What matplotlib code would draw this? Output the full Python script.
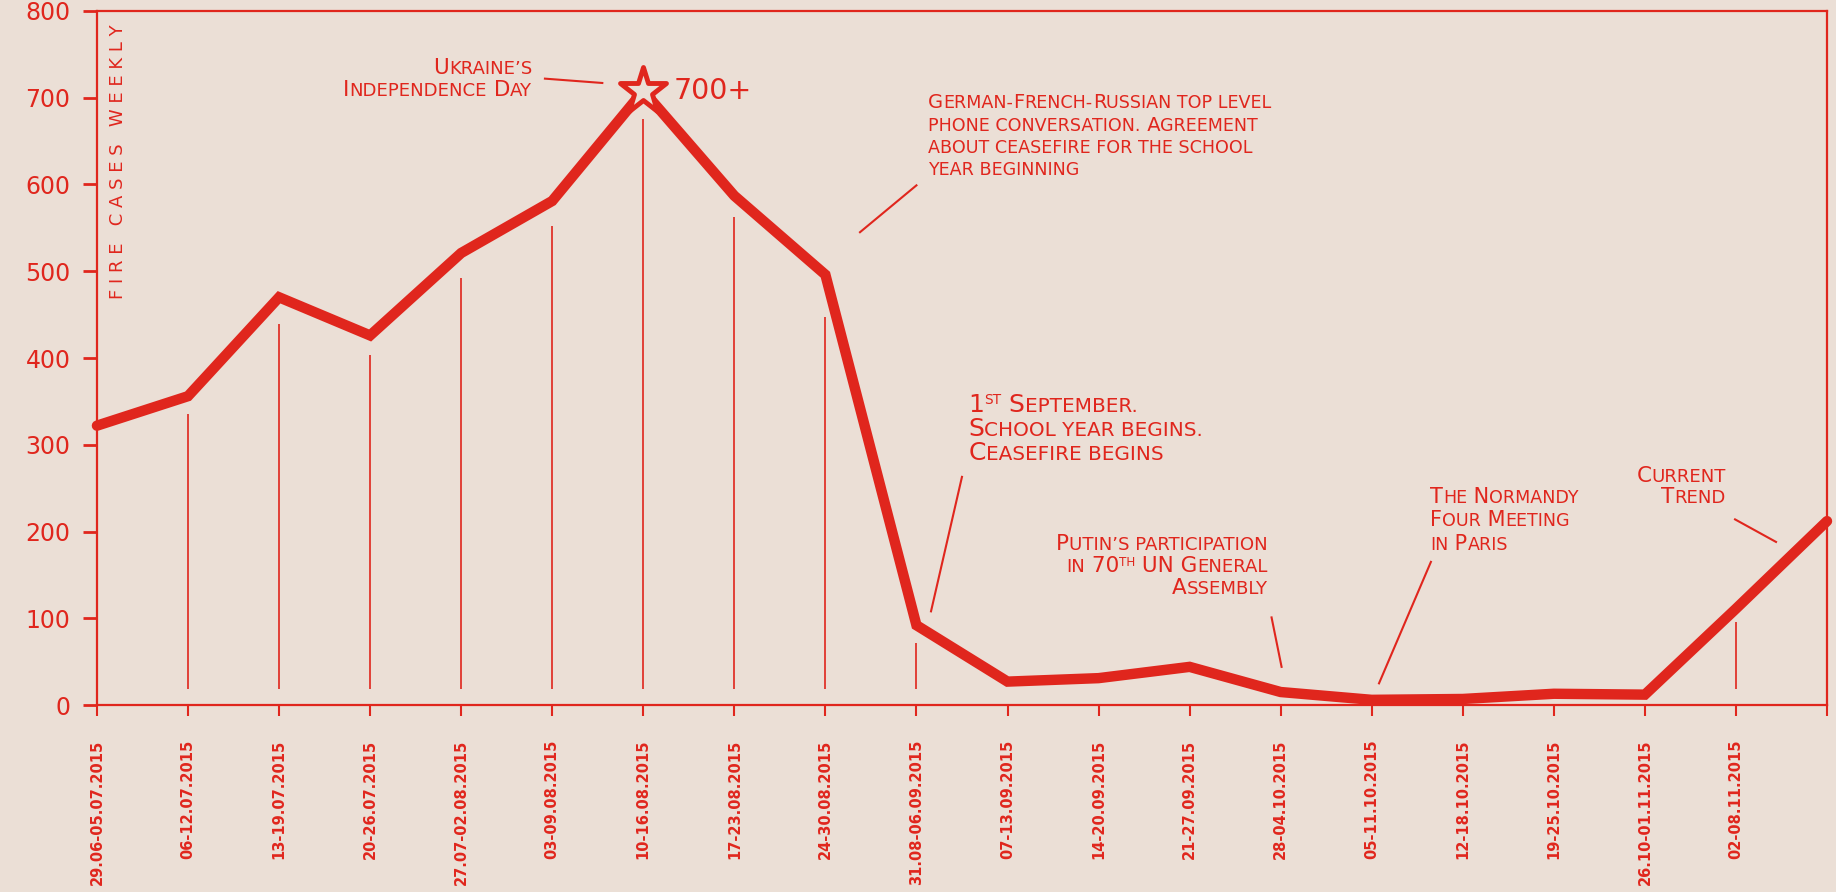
"""Weekly fire cases in Donbas, summer-autumn 2015, drawn in a paper-poster style."""

import matplotlib

matplotlib.use("Agg")
import matplotlib.pyplot as plt
from matplotlib.markers import MarkerStyle
from matplotlib.offsetbox import AnnotationBbox, HPacker, TextArea, VPacker

RED = "#e0261d"
PAPER = "#ebdfd6"
FONT = "DejaVu Sans"

# Data.
week_labels = [
    "29.06-05.07.2015", "06-12.07.2015", "13-19.07.2015", "20-26.07.2015",
    "27.07-02.08.2015", "03-09.08.2015", "10-16.08.2015", "17-23.08.2015",
    "24-30.08.2015", "31.08-06.09.2015", "07-13.09.2015", "14-20.09.2015",
    "21-27.09.2015", "28-04.10.2015", "05-11.10.2015", "12-18.10.2015",
    "19-25.10.2015", "26.10-01.11.2015", "02-08.11.2015", "",
]
fire_cases = [322, 356, 470, 426, 521, 581, 708, 587, 496, 92,
              27, 31, 44, 15, 6, 7, 13, 12, 111, 212]
peak_week = 6
stem_weeks = [1, 2, 3, 4, 5, 6, 7, 8, 9, 18]
stem_tops = [335, 439, 404, 492, 552, 676, 563, 447, 72, 96]
stem_base = 19
y_ticks = [0, 100, 200, 300, 400, 500, 600, 700, 800]


def small_caps_line(line, size, ratio=0.84):
    """Build one line of fake small caps; '^xx' marks a superscript."""
    parts = []
    for chunk in line.replace("^", "\x00^").split("\x00"):
        if chunk.startswith("^"):
            word = chunk[1:].split(" ")[0]
            parts.append(("sup", word))
            rest = chunk[1 + len(word):]
            if rest:
                parts.append(("txt", rest))
        elif chunk:
            parts.append(("txt", chunk))

    boxes = []
    for kind, text in parts:
        if kind == "sup":
            boxes.append(TextArea(text.upper(), textprops=dict(
                size=size * 0.55, color=RED, family=FONT)))
            continue
        # split into runs of small (lowercase) and full-size characters
        states = []
        for c in text:
            if c.islower():
                states.append(True)
            elif c.isupper() or c.isdigit():
                states.append(False)
            else:
                states.append(None)
        for i in range(len(states)):
            if states[i] is None and text[i] != " ":
                states[i] = states[i - 1] if i > 0 and states[i - 1] is not None else False
        for i in range(len(states) - 1, -1, -1):
            if states[i] is None:
                states[i] = states[i + 1] if i + 1 < len(states) else False
        runs = []
        for c, s in zip(text, states):
            if runs and runs[-1][1] == s:
                runs[-1][0] += c
            else:
                runs.append([c, s])
        row = [TextArea(r.upper(), textprops=dict(
            size=size * ratio if s else size, color=RED, family=FONT))
            for r, s in runs]
        boxes.append(HPacker(children=row, align="baseline", pad=0, sep=0))
    return HPacker(children=boxes, align="top", pad=0, sep=0)


def note(ax, lines, xy, side="left", size=15.5, ratio=0.84, sep=2):
    rows = [small_caps_line(t, size, ratio) for t in lines]
    box = VPacker(children=rows, align=side, pad=0, sep=sep)
    ab = AnnotationBbox(box, xy, xycoords="data",
                        box_alignment=(0 if side == "left" else 1, 0.5),
                        frameon=False, pad=0, annotation_clip=False)
    ax.add_artist(ab)


fig, ax = plt.subplots(figsize=(18.36, 8.92), dpi=100)
fig.patch.set_facecolor(PAPER)
ax.set_facecolor(PAPER)
fig.subplots_adjust(left=0.0528, right=0.9951, bottom=0.2096, top=0.9877)

x = list(range(len(fire_cases)))

# thin stems from the baseline up towards the line
ax.vlines(stem_weeks, stem_base, stem_tops, color=RED, lw=1.2, zorder=2)

ax.plot(x, fire_cases, color=RED, lw=7.5, solid_capstyle="round",
        solid_joinstyle="miter", clip_on=False, zorder=3)
star = MarkerStyle("*", joinstyle="round")
ax.plot(peak_week, fire_cases[peak_week], marker=star, ms=35, mfc=PAPER,
        mec=RED, mew=3.5, zorder=4, clip_on=False)
ax.text(6.33, 708, "700+", color=RED, family=FONT, size=20.5,
        ha="left", va="center")

ax.set_xlim(0, len(fire_cases) - 1)
ax.set_ylim(0, 800)
ax.set_xticks(x)
ax.set_xticklabels(week_labels, rotation=90, family=FONT, weight="bold",
                   size=10.5, color=RED, va="top")
ax.set_yticks(y_ticks)
ax.set_yticklabels([str(v) for v in y_ticks], family=FONT, size=17, color=RED)
ax.tick_params(axis="x", direction="out", length=8, width=1.5, color=RED, pad=17)
ax.tick_params(axis="y", direction="out", length=10, width=2, color=RED, pad=9)
for sp in ax.spines.values():
    sp.set_color(RED)
    sp.set_linewidth(1.6)

ax.text(0.012, 0.98, "F I R E   C A S E S   W E E K L Y", transform=ax.transAxes,
        rotation=90, ha="center", va="top", size=13, color=RED, family=FONT)

# annotations with their leader lines
note(ax, ["Ukraine’s", "Independence Day"], (4.78, 722), side="right", sep=1.5)
ax.plot([4.92, 5.55], [722, 717], color=RED, lw=1.5)

note(ax, ["German-French-Russian top level", "phone conversation. Agreement",
          "about ceasefire for the school", "year beginning"],
     (9.13, 656), size=14, ratio=0.9, sep=3)
ax.plot([8.38, 9.0], [545, 599], color=RED, lw=1.5)

note(ax, ["1^st September.", "School year begins.", "Ceasefire begins"],
     (9.57, 318), size=18, ratio=0.8, sep=0)
ax.plot([9.50, 9.16], [263, 108], color=RED, lw=1.5)

note(ax, ["Putin’s participation", "in 70^th UN General", "Assembly"],
     (12.86, 160), side="right", sep=1.5)
ax.plot([12.90, 13.01], [101, 44], color=RED, lw=1.5)

note(ax, ["The Normandy", "Four Meeting", "in Paris"], (14.64, 213),
     size=15, sep=2.5)
ax.plot([14.65, 14.08], [165, 25], color=RED, lw=1.5)

note(ax, ["Current", "Trend"], (17.89, 252), side="right", sep=1)
ax.plot([17.99, 18.44], [214, 188], color=RED, lw=1.5)

fig.savefig("out.png", dpi=100, facecolor=PAPER)
